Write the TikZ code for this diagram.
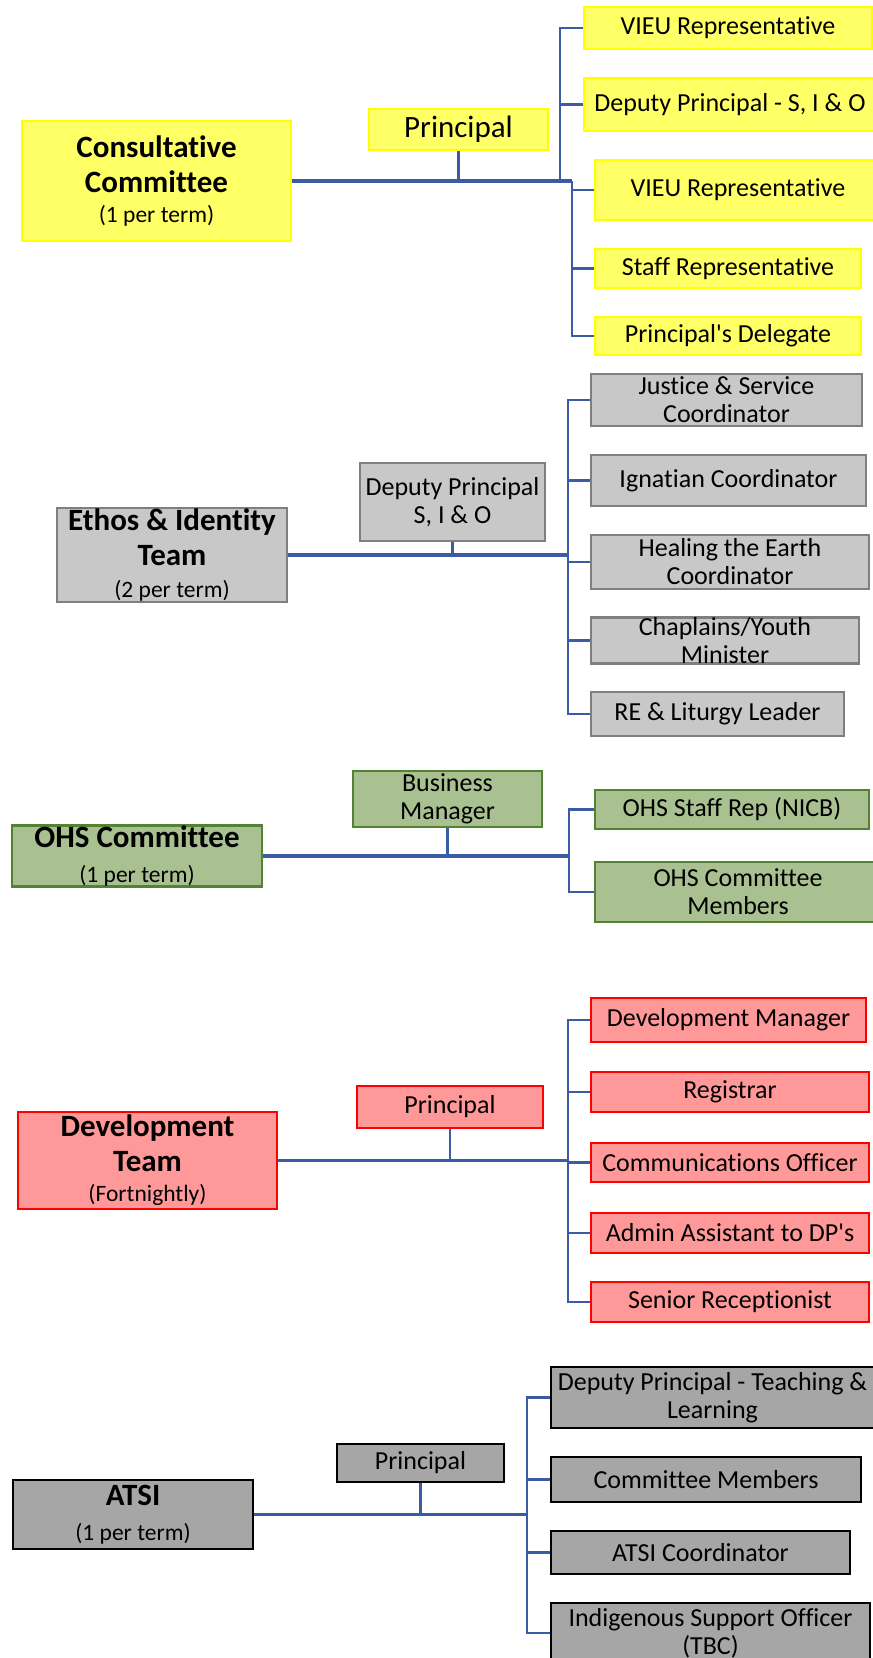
\documentclass[tikz,border=0pt]{standalone}
\usepackage{fontspec}
\setmainfont{Carlito}[Ligatures=NoCommon]
\usetikzlibrary{positioning}

\definecolor{linkblue}{RGB}{59,91,164}
\definecolor{yfill}{RGB}{255,255,102}
\definecolor{yline}{RGB}{255,255,0}
\definecolor{gfill}{RGB}{200,200,200}
\definecolor{gline}{RGB}{127,127,127}
\definecolor{grfill}{RGB}{169,193,145}
\definecolor{grline}{RGB}{84,130,53}
\definecolor{rfill}{RGB}{255,153,153}
\definecolor{rline}{RGB}{255,0,0}
\definecolor{dfill}{RGB}{166,166,166}
\definecolor{dline}{RGB}{0,0,0}

\begin{document}
\begin{tikzpicture}[
    x=1pt, y=-1pt,
    box/.style={rectangle, draw, line width=2.6pt, inner sep=0pt, align=center},
    team/.style={box, font=\fontsize{31}{35}\selectfont\bfseries},
    role/.style={box, font=\fontsize{26}{28}\selectfont},
    yel/.style={fill=yfill, draw=yline},
    gry/.style={fill=gfill, draw=gline},
    grn/.style={fill=grfill, draw=grline},
    red/.style={fill=rfill, draw=rline},
    dgr/.style={fill=dfill, draw=dline},
    trunk/.style={draw=linkblue, line width=3.5pt},
    branch/.style={draw=linkblue, line width=2.4pt},
]
\newcommand{\freq}[1]{{\fontsize{23.5}{26}\selectfont\mdseries #1}}

\useasboundingbox (0,0) rectangle (873,1658);
\clip (0,0) rectangle (873,1658);

% Consultative Committee
\node[team, yel, minimum width=269, minimum height=120] (cons) at (156.5,181)
    {Consultative\\Committee\\[-5pt]\freq{(1 per term)}};
\node[role, yel, font=\fontsize{31}{35}\selectfont, minimum width=179, minimum height=41] (yprin) at (458.5,129.5) {Principal};
\node[role, yel, minimum width=288, minimum height=42] (vieua) at (728,28) {VIEU Representative};
\node[role, yel, minimum width=292, minimum height=53] (dpsio) at (730,104.5) {Deputy Principal - S, I \& O};
\node[role, yel, minimum width=286, minimum height=60] (vieub) at (738,190) {VIEU Representative};
\node[role, yel, minimum width=266, minimum height=39] (staff) at (728,268.5) {Staff Representative};
\node[role, yel, minimum width=266, minimum height=38] (deleg) at (728,336) {Principal\textquotesingle s Delegate};

\coordinate (cup) at (560,181);
\coordinate (cdown) at (572,181);
\draw[trunk] (cons.east) -- (cdown);
\draw[branch] (yprin.south) -- (yprin.south |- cons.east);
\draw[branch] (cup) |- (vieua.west);
\draw[branch] (cup) |- (dpsio.west);
\draw[branch] (cdown) |- (vieub.west);
\draw[branch] (cdown) |- (staff.west);
\draw[branch] (cdown) |- (deleg.west);

% Ethos & Identity Team
\node[team, gry, minimum width=230, minimum height=94] (ethos) at (172,555)
    {Ethos \& Identity\\Team\\[-3pt]\freq{(2 per term)}};
\node[role, gry, minimum width=185, minimum height=78] (edp) at (452.5,502) {Deputy Principal\\S, I \& O};
\node[role, gry, minimum width=271, minimum height=52] (justice) at (726.5,400) {Justice \& Service\\Coordinator};
\node[role, gry, minimum width=275, minimum height=51] (ignat) at (728.5,480.5) {Ignatian Coordinator};
\node[role, gry, minimum width=278, minimum height=54] (heal) at (730,562) {Healing the Earth\\Coordinator};
\node[role, gry, minimum width=268, minimum height=45] (chap) at (725,640.5) {Chaplains/Youth\\Minister};
\node[role, gry, minimum width=253, minimum height=44] (relit) at (717.5,714) {RE \& Liturgy Leader};

\coordinate (ebus) at (568,555);
\draw[trunk] (ethos.east) -- (ebus);
\draw[branch] (edp.south) -- (edp.south |- ethos.east);
\foreach \who in {justice, ignat, heal, chap, relit}
    \draw[branch] (ebus) |- (\who.west);

% OHS Committee
\node[team, grn, minimum width=250, minimum height=60] (ohs) at (137,856)
    {OHS Committee\\\freq{(1 per term)}};
\node[role, grn, minimum width=189, minimum height=56] (busmgr) at (447.5,799) {Business\\Manager};
\node[role, grn, minimum width=274, minimum height=39] (ohsrep) at (732,809.5) {OHS Staff Rep (NICB)};
\node[role, grn, minimum width=286, minimum height=60] (ohsmem) at (738,892) {OHS Committee\\Members};

\coordinate (obus) at (569,856);
\draw[trunk] (ohs.east) -- (obus);
\draw[branch] (busmgr.south) -- (busmgr.south |- ohs.east);
\foreach \who in {ohsrep, ohsmem}
    \draw[branch] (obus) |- (\who.west);

% Development Team
\node[team, red, minimum width=259, minimum height=97] (devt) at (147.5,1160.5)
    {Development\\Team\\[-5pt]\freq{(Fortnightly)}};
\node[role, red, minimum width=186, minimum height=42] (rprin) at (450,1107) {Principal};
\node[role, red, minimum width=275, minimum height=44] (devmgr) at (728.5,1020) {Development Manager};
\node[role, red, minimum width=278, minimum height=40] (regis) at (730,1092) {Registrar};
\node[role, red, minimum width=278, minimum height=39] (comms) at (730,1162.5) {Communications Officer};
\node[role, red, minimum width=278, minimum height=40] (admin) at (730,1233) {Admin Assistant to DP\textquotesingle s};
\node[role, red, minimum width=278, minimum height=40] (recep) at (730,1302) {Senior Receptionist};

\coordinate (dbus) at (568,1160.5);
\draw[trunk] (devt.east) -- (dbus);
\draw[branch] (rprin.south) -- (rprin.south |- devt.east);
\foreach \who in {devmgr, regis, comms, admin, recep}
    \draw[branch] (dbus) |- (\who.west);

% ATSI
\node[team, dgr, minimum width=240, minimum height=69] (atsi) at (133,1514.5)
    {ATSI\\\freq{(1 per term)}};
\node[role, dgr, minimum width=167, minimum height=38] (aprin) at (420.5,1463) {Principal};
\node[role, dgr, minimum width=323, minimum height=61] (dptl) at (712.5,1397.5) {Deputy Principal - Teaching \&\\Learning};
\node[role, dgr, minimum width=310, minimum height=45] (cmem) at (706,1479.5) {Committee Members};
\node[role, dgr, minimum width=299, minimum height=43] (acoord) at (700.5,1552.5) {ATSI Coordinator};
\node[role, dgr, minimum width=319, minimum height=60] (iso) at (710.5,1633) {Indigenous Support Officer\\(TBC)};

\coordinate (abus) at (527,1514.5);
\draw[trunk] (atsi.east) -- (abus);
\draw[branch] (aprin.south) -- (aprin.south |- atsi.east);
\foreach \who in {dptl, cmem, acoord, iso}
    \draw[branch] (abus) |- (\who.west);

\end{tikzpicture}
\end{document}
